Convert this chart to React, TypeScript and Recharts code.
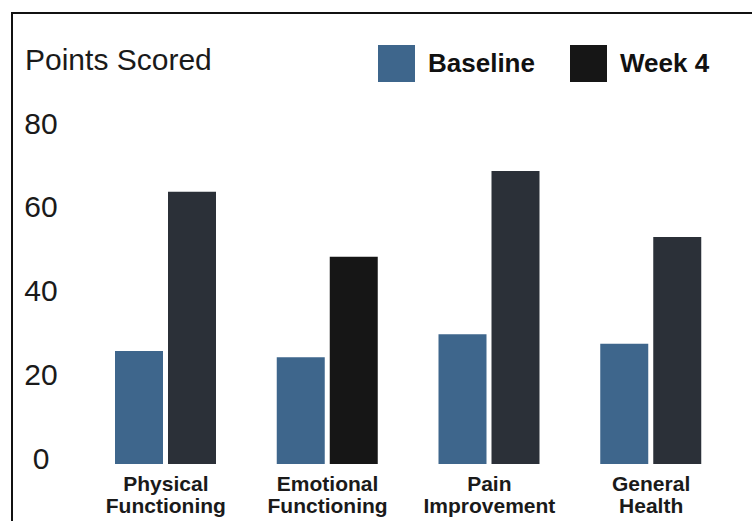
import React from "react";
import { BarChart, Bar, XAxis, YAxis, Legend, Cell } from "recharts";

const categories = [
  ["Physical", "Functioning"],
  ["Emotional", "Functioning"],
  ["Pain", "Improvement"],
  ["General", "Health"],
];
const baseline = [27, 25.5, 31, 28.7];
const week4 = [65, 49.5, 70, 54.2];
const yTicks = [0, 20, 40, 60, 80];

const BLUE = "#3e668c";
const DARK = "#2b3038";
const BLACK = "#161616";
const week4Colors = [DARK, BLACK, DARK, DARK];

const data = categories.map((c, i) => ({
  name: c.join(" "),
  lines: c,
  baseline: baseline[i],
  week4: week4[i],
}));

const FONT = "'Liberation Sans', Arial, sans-serif";

const YTick = (props: any) => {
  const { y, payload } = props;
  return (
    <text
      x={41}
      y={y - 6}
      textAnchor="middle"
      dominantBaseline="central"
      fontFamily={FONT}
      fontSize={30}
      fill="#1a1a1a"
    >
      {payload.value}
    </text>
  );
};

const XTick = (props: any) => {
  const { x, payload, index } = props;
  const lines = categories[index] || [payload.value];
  return (
    <g>
      {lines.map((l: string, i: number) => (
        <text
          key={i}
          x={x}
          y={483 + i * 22}
          textAnchor="middle"
          dominantBaseline="central"
          fontFamily={FONT}
          fontWeight="bold"
          fontSize={21}
          fill="#1a1a1a"
        >
          {l}
        </text>
      ))}
    </g>
  );
};

const LegendContent = () => (
  <div style={{ display: "flex", height: 37, fontFamily: FONT }}>
    {[
      { label: "Baseline", color: BLUE, w: 192 },
      { label: "Week 4", color: BLACK, w: 150 },
    ].map((e) => (
      <div key={e.label} style={{ display: "flex", alignItems: "center", width: e.w }}>
        <div style={{ width: 37, height: 37, background: e.color, marginRight: 13 }} />
        <span style={{ fontSize: 26, fontWeight: "bold", color: "#111" }}>{e.label}</span>
      </div>
    ))}
  </div>
);

export default function App() {
  return (
    <div style={{ position: "absolute", left: 0, top: 0, width: 752, height: 521, background: "#fff", overflow: "hidden" }}>
      <div
        style={{
          position: "absolute",
          left: 11,
          top: 12,
          width: 760,
          height: 530,
          borderLeft: "2px solid #111",
          borderTop: "2px solid #111",
        }}
      />
      <div
        style={{
          position: "absolute",
          left: 25,
          top: 40,
          fontFamily: FONT,
          fontSize: 30,
          color: "#1a1a1a",
          lineHeight: "40px",
        }}
      >
        Points Scored
      </div>
      <div style={{ position: "absolute", left: 0, top: 0 }}>
        <BarChart
          width={752}
          height={521}
          data={data}
          margin={{ top: 92, right: 20, bottom: 0, left: 0 }}
          barCategoryGap={30}
          barGap={5}
        >
          <XAxis dataKey="name" axisLine={false} tickLine={false} height={57} tick={<XTick />} interval={0} />
          <YAxis
            domain={[0, 80]}
            ticks={yTicks}
            axisLine={false}
            tickLine={false}
            width={85}
            tick={<YTick />}
          />
          <Legend
            verticalAlign="top"
            content={<LegendContent />}
            wrapperStyle={{ position: "absolute", top: 45, left: 378, width: "auto" }}
          />
          <Bar dataKey="baseline" name="Baseline" fill={BLUE} isAnimationActive={false} />
          <Bar dataKey="week4" name="Week 4" fill={BLACK} isAnimationActive={false}>
            {week4Colors.map((c, i) => (
              <Cell key={i} fill={c} />
            ))}
          </Bar>
        </BarChart>
      </div>
    </div>
  );
}
